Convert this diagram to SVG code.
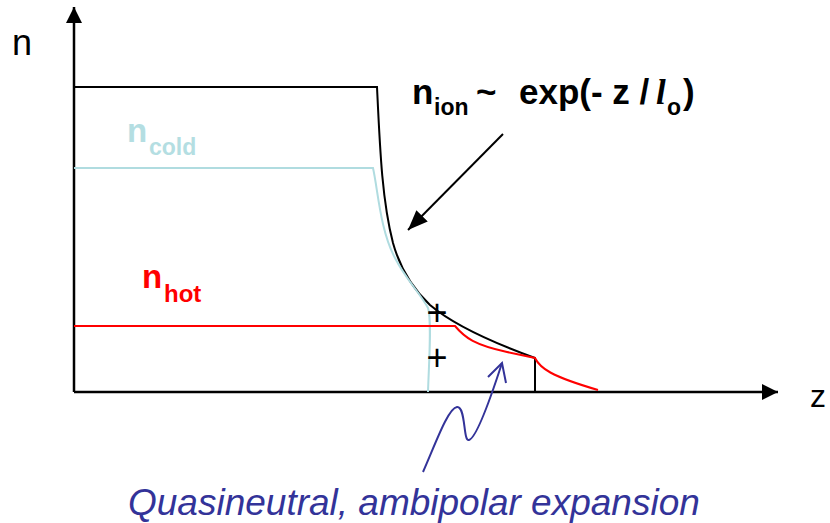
<svg xmlns="http://www.w3.org/2000/svg" width="830" height="523" viewBox="0 0 830 523">
<defs>
<style>
.t{font-family:"Liberation Sans",Arial,sans-serif}
.b{font-weight:bold}
.ax{stroke:#000;stroke-width:2.5;fill:none}
.cv{fill:none;stroke-width:2}
</style>
<marker id="ah" viewBox="0 0 16 16" refX="16" refY="8" markerWidth="16" markerHeight="16" markerUnits="userSpaceOnUse" orient="auto">
<path d="M0,0 L16,8 L0,16 Z" fill="#000"/>
</marker>
<marker id="ah2" viewBox="0 0 20 16" refX="20" refY="8" markerWidth="20" markerHeight="16" markerUnits="userSpaceOnUse" orient="auto">
<path d="M0,0 L20,8 L0,16 Z" fill="#000"/>
</marker>
</defs>
<rect width="830" height="523" fill="#fff"/>
<g id="axes">
<line class="ax" x1="74" y1="392" x2="74" y2="7" marker-end="url(#ah)"/>
<line class="ax" x1="74" y1="392" x2="778" y2="392" marker-end="url(#ah)"/>
<text class="t" x="12" y="55" font-size="36">n</text>
<text class="t" x="810" y="407" font-size="32">z</text>
</g>
<g id="curves">
<path id="ion-curve" class="cv" stroke="#000" d="M74,87 L377,87 C380,150 382,200 393,243 C400,268 412,288 430,305 C450,322 480,338 535,358 L535,392"/>
<path id="cold-curve" class="cv" stroke="#b0dce0" d="M74,168 L373,168 C378,190 380,230 395,258 C405,278 420,293 428,308 C432,320 429,360 428,392"/>
<path id="hot-curve" class="cv" stroke="#ff0000" d="M74,326 L455,326 C465,338 475,345 507,352 L535,358 C540,368 550,376 598,390"/>
</g>
<g id="label-ion" class="t b" font-size="35" fill="#000">
<text x="412" y="104">n</text>
<text x="434" y="115" font-size="23">ion</text>
<text x="476" y="104">~</text>
<text x="519" y="104">exp(- z /</text>
<text x="656" y="104" font-family="Liberation Serif,serif" font-style="italic">l</text>
<text x="667" y="115" font-size="23">o</text>
<text x="683" y="104">)</text>
</g>
<g id="label-cold" class="t b" fill="#b4dee2">
<text x="127" y="142" font-size="33">n</text>
<text x="149" y="155" font-size="23">cold</text>
</g>
<g id="label-hot" class="t b" fill="#ff0000">
<text x="142" y="288" font-size="33">n</text>
<text x="164" y="302" font-size="24">hot</text>
</g>
<g id="plus-marks" class="t" font-size="36" text-anchor="middle" fill="#000">
<text x="437" y="325">+</text>
<text x="437" y="370">+</text>
</g>
<g id="label-expansion">
<text class="t" x="128" y="515" font-size="37" font-style="italic" fill="#333399">Quasineutral, ambipolar expansion</text>
</g>
<g id="connectors">
<line x1="503" y1="134" x2="408" y2="230" stroke="#000" stroke-width="2" marker-end="url(#ah2)"/>
<path d="M423,472 C435,445 448,408 457,407 C466,406 463,442 469,440 C476,438 490,400 502,363" fill="none" stroke="#333399" stroke-width="2"/>
<path d="M488,377 L502,363 L506,383" fill="none" stroke="#333399" stroke-width="2"/>
</g>
</svg>
